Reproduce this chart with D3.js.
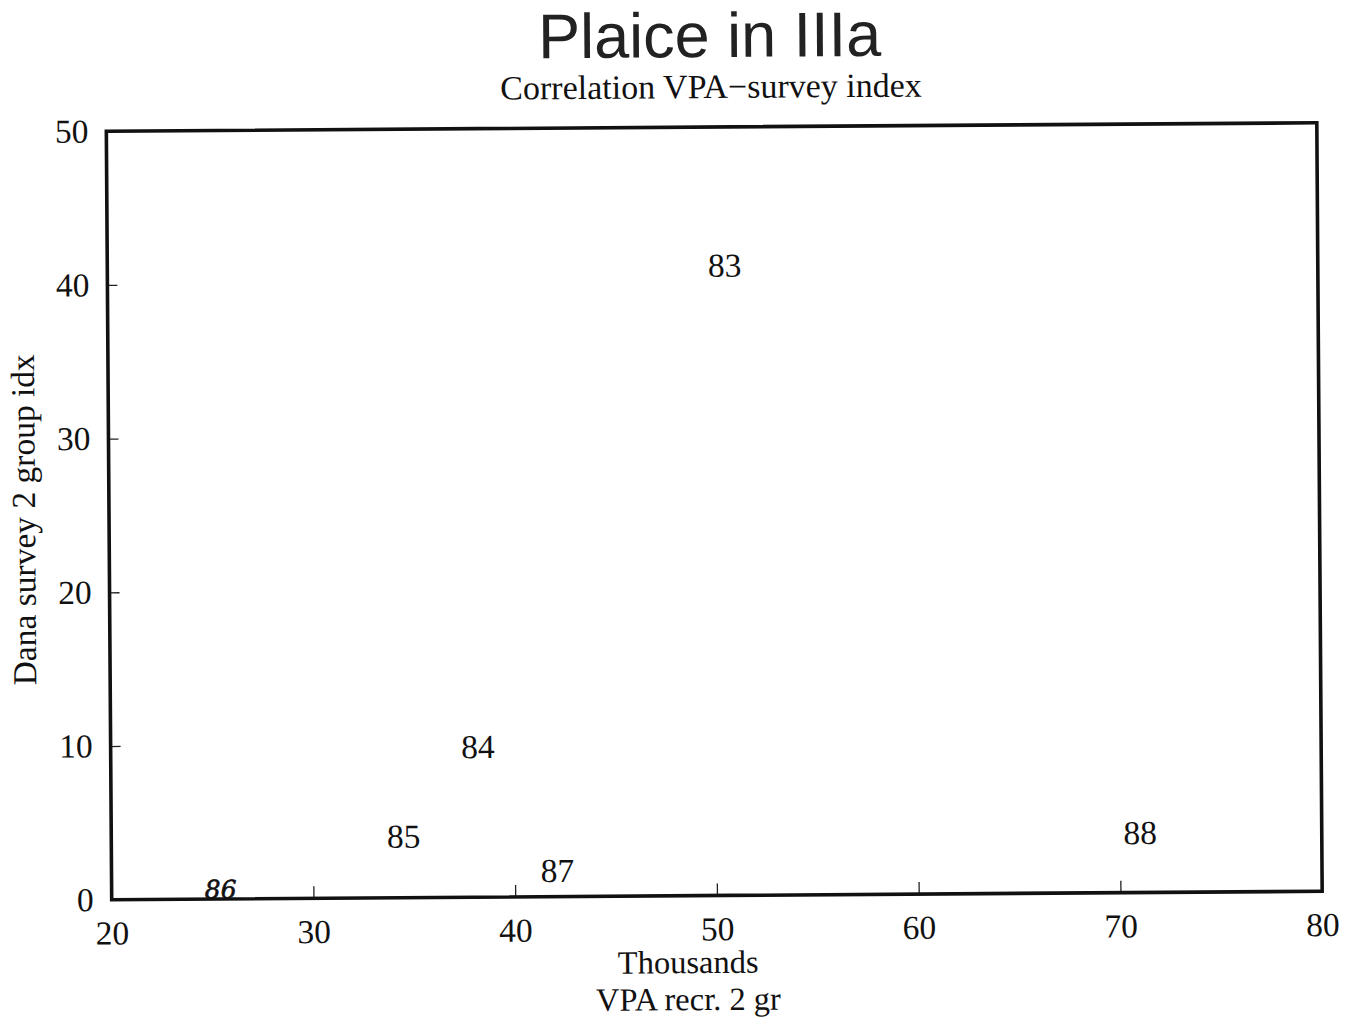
<!DOCTYPE html>
<html>
<head>
<meta charset="utf-8">
<script src="https://cdn.jsdelivr.net/npm/d3@7"></script>
<style>
  html, body { margin: 0; padding: 0; background: #fff; }
  svg { display: block; }
  .serif { font-family: "Liberation Serif", "Times New Roman", serif; fill: #111; }
</style>
</head>
<body>
<script>
// Year labels of the stock-recruitment pairs
const years = ["83", "84", "85", "86", "87", "88"];
// VPA recruitment at age 2 (thousands)
const vpaRecruits = [50.6, 38.2, 34.5, 25.4, 42.1, 71.0];
// Dana survey age-2 index
const surveyIndex = [41.0, 9.8, 4.0, 0.6, 1.7, 3.9];

const xTicks = [20, 30, 40, 50, 60, 70, 80];
const yTicks = [0, 10, 20, 30, 40, 50];

const W = 1356, H = 1024;
const margin = { left: 109, right: W - 1319.5, top: 127, bottom: H - 895.5 };
const fs = 33.5;

const svg = d3.select("body").append("svg")
  .attr("width", W).attr("height", H);

// whole page sits with a slight tilt
const g = svg.append("g")
  .attr("transform", `rotate(-0.4, ${W / 2 + 37}, 511)`);

const x = d3.scaleLinear().domain([20, 80]).range([margin.left, W - margin.right]);
const y = d3.scaleLinear().domain([0, 50]).range([H - margin.bottom, margin.top]);

// titles
g.append("text")
  .attr("x", 713).attr("y", 57)
  .attr("text-anchor", "middle")
  .style("font-family", "'Liberation Sans', Arial, sans-serif")
  .style("font-size", "63px")
  .style("fill", "#222")
  .text("Plaice in IIIa");

g.append("text").attr("class", "serif")
  .attr("x", 714).attr("y", 98)
  .attr("text-anchor", "middle")
  .style("font-size", "34px")
  .text("Correlation VPA\u2212survey index");

// axes with inward ticks
const xAxis = g.append("g")
  .attr("transform", `translate(0,${y(0)})`)
  .call(d3.axisBottom(x).tickValues(xTicks).tickSize(-12).tickPadding(21).tickFormat(d3.format("d")));

const yAxis = g.append("g")
  .attr("transform", `translate(${x(20)},0)`)
  .call(d3.axisLeft(y).tickValues(yTicks).tickSize(-10).tickPadding(18).tickFormat(d3.format("d")));

[xAxis, yAxis].forEach(a => {
  a.select(".domain").remove();
  a.selectAll(".tick line").attr("stroke", "#222").attr("stroke-width", 1.3);
  a.selectAll(".tick text")
    .attr("class", "serif")
    .style("font-size", fs + "px")
    .style("fill", "#111");
});

// plot frame
g.append("rect")
  .attr("x", x(20)).attr("y", y(50))
  .attr("width", x(80) - x(20)).attr("height", y(0) - y(50))
  .attr("fill", "none")
  .attr("stroke", "#111")
  .attr("stroke-width", 3.6);

// axis titles
g.append("text").attr("class", "serif")
  .attr("x", 685).attr("y", 973)
  .attr("text-anchor", "middle")
  .style("font-size", "32.5px")
  .text("Thousands");

g.append("text").attr("class", "serif")
  .attr("x", 685).attr("y", 1010)
  .attr("text-anchor", "middle")
  .style("font-size", "32.5px")
  .text("VPA recr. 2 gr");

g.append("text").attr("class", "serif")
  .attr("transform", "translate(35,515) rotate(-90)")
  .attr("text-anchor", "middle")
  .style("font-size", fs + "px")
  .text("Dana survey 2 group idx");

// year labels plotted as the point markers
const pts = years.map((yr, i) => ({ yr, vx: vpaRecruits[i], vy: surveyIndex[i] }));

g.selectAll("text.pt")
  .data(pts)
  .join("text")
  .attr("class", d => d.yr === "86" ? "pt hand" : "pt serif")
  .attr("x", d => x(d.vx))
  .attr("y", d => y(d.vy))
  .attr("text-anchor", "middle")
  .attr("dominant-baseline", "central")
  .style("font-size", d => d.yr === "86" ? "25px" : fs + "px")
  .style("font-style", d => d.yr === "86" ? "italic" : "normal")
  .style("font-family", d => d.yr === "86" ? "'DejaVu Serif', serif" : null)
  .style("fill", "#111")
  .style("stroke", d => d.yr === "86" ? "#111" : "none")
  .style("stroke-width", d => d.yr === "86" ? 0.6 : 0)
  .text(d => d.yr);
</script>
</body>
</html>
